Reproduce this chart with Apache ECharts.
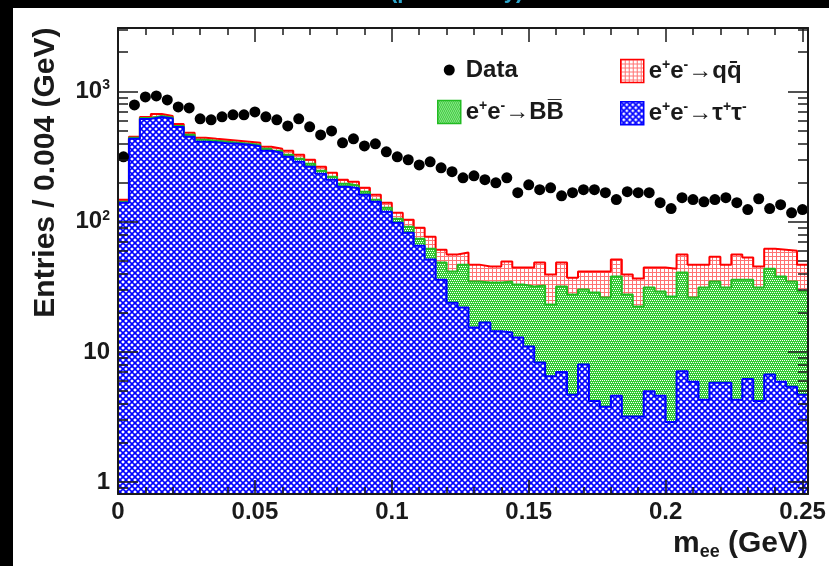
<!DOCTYPE html>
<html>
<head>
<meta charset="utf-8">
<script src="https://cdn.jsdelivr.net/npm/echarts@6/dist/echarts.min.js"></script>
<style>
  html, body { margin: 0; padding: 0; background: #000; }
  #paper { position: absolute; left: 13px; top: 8px; width: 816px; height: 558px; background: #fff; }
  #chart { position: absolute; left: 0; top: 0; width: 829px; height: 566px; }
</style>
</head>
<body>
<div id="paper"></div>
<div id="chart"></div>
<script>
// Di-electron invariant mass, 63 bins of 0.004 GeV between 0 and 0.252 GeV
const binWidth = 0.004;

const dataCounts = [315, 788, 908, 924, 861, 761, 747, 616, 605, 638,
  661, 661, 696, 638, 605, 544, 616, 535, 464, 498,
  403, 433, 382, 396, 344, 315, 299, 273, 288, 259,
  242, 217, 225, 210, 199, 217, 167, 192, 176, 182,
  158, 167, 176, 176, 167, 148, 170, 167, 167, 140,
  126, 153, 148, 142, 148, 153, 140, 124, 150, 126,
  135, 117, 124];

const tauCounts = [139.8, 432.5, 615.6, 637.6, 621.0, 534.5, 448.1, 410.3, 406.7, 399.5,
  396.0, 389.0, 378.9, 350.0, 337.9, 314.9, 288.4, 263.9, 233.3, 209.8,
  185.5, 180.6, 161.0, 142.3, 119.3, 98.2, 82.4, 65.5, 51.2, 35.9,
  23.9, 21.9, 15.4, 16.8, 14.4, 14.1, 12.9, 11.0, 8.3, 6.5,
  7.0, 4.7, 8.0, 4.2, 3.8, 4.6, 3.2, 3.2, 5.0, 4.6,
  2.9, 7.1, 5.9, 4.3, 5.8, 5.8, 4.3, 6.2, 4.2, 6.7,
  5.9, 5.4, 4.7];

const bbCounts = [2.5, 7.9, 10.9, 11.4, 11.0, 9.4, 16.1, 14.7, 10.9, 10.8,
  7.1, 7.0, 10.1, 12.6, 12.1, 11.3, 15.6, 14.3, 12.6, 11.4,
  10.0, 8.2, 8.8, 5.2, 8.7, 7.2, 9.2, 8.6, 10.9, 12.6,
  17.5, 24.9, 19.3, 17.3, 19.7, 20.6, 20.0, 20.8, 24.0, 16.6,
  24.8, 22.9, 22.1, 24.4, 22.4, 33.3, 24.4, 19.1, 26.2, 24.5,
  23.7, 33.6, 20.3, 26.9, 28.9, 25.4, 31.6, 29.7, 27.0, 36.9,
  32.0, 29.3, 24.4];

const qqCounts = [5.2, 7.7, 11.1, 23.2, 17.0, 19.7, 16.6, 15.4, 14.9, 14.7,
  14.5, 14.3, 14.1, 13.0, 12.6, 23.8, 22.2, 20.5, 18.0, 16.2,
  14.3, 13.7, 12.4, 13.5, 11.8, 11.8, 12.0, 15.8, 14.6, 12.5,
  14.5, 11.1, 12.1, 11.1, 11.1, 14.7, 11.5, 12.6, 16.2, 16.2,
  16.7, 9.6, 11.3, 12.8, 15.2, 13.3, 11.7, 14.3, 13.2, 15.3,
  17.0, 15.2, 20.6, 15.6, 19.2, 15.6, 20.0, 17.1, 14.0, 18.5,
  23.1, 25.2, 17.7];

// Axis ticks
const xTickLabels = [0, 0.05, 0.1, 0.15, 0.2, 0.25];
const xMinorTicks = [0.01, 0.02, 0.03, 0.04, 0.06, 0.07, 0.08, 0.09, 0.11, 0.12, 0.13, 0.14,
  0.16, 0.17, 0.18, 0.19, 0.21, 0.22, 0.23, 0.24];
const yTickLabels = [1, 10, 100, 1000];
const yMinorTicks = [0.9, 2, 3, 4, 5, 6, 7, 8, 9, 20, 30, 40, 50, 60, 70, 80, 90,
  200, 300, 400, 500, 600, 700, 800, 900, 2000, 3000];

const X_MIN = 0, X_MAX = 0.252;
const Y_MIN = 0.81, Y_MAX = 3070;

const FONT = '"Liberation Sans", Arial, Helvetica, sans-serif';
const INK = '#1a1a1a';

// Hatched fills
function makeTile(size, draw) {
  const c = document.createElement('canvas');
  c.width = size; c.height = size;
  const g = c.getContext('2d');
  draw(g, size);
  return { image: c, repeat: 'repeat' };
}
const tauFill = makeTile(6, (g, s) => {
  g.fillStyle = '#fff'; g.fillRect(0, 0, s, s);
  g.strokeStyle = '#0000ff'; g.lineWidth = 1.6;
  for (const o of [-s, 0, s]) {
    g.beginPath(); g.moveTo(o, 0); g.lineTo(o + s, s); g.stroke();
    g.beginPath(); g.moveTo(o + s, 0); g.lineTo(o, s); g.stroke();
  }
});
const bbFill = makeTile(4, (g, s) => {
  g.fillStyle = '#33cc33'; g.fillRect(0, 0, s, s);
  g.fillStyle = '#ffffff';
  g.fillRect(0, 0, 1, 1); g.fillRect(2, 0, 1, 1); g.fillRect(1, 2, 1, 1); g.fillRect(3, 2, 1, 1);
});
const qqFill = makeTile(4, (g, s) => {
  g.fillStyle = '#ffffff'; g.fillRect(0, 0, s, s);
  g.fillStyle = 'rgba(255,0,0,0.55)';
  g.fillRect(0, 0, 1, s); g.fillRect(1, 0, s - 1, 1);
});

// Stack of the three samples, drawn as cumulative histograms (back to front: qq, BB, tau)
const stackTau = tauCounts.slice();
const stackBB = tauCounts.map((v, i) => v + bbCounts[i]);
const stackQQ = stackBB.map((v, i) => v + qqCounts[i]);

// Histogram outline points: one point per bin edge, value held across the bin
function binSteps(vals) {
  const pts = vals.map((v, i) => [i * binWidth, v]);
  pts.push([vals.length * binWidth, vals[vals.length - 1]]);
  return pts;
}
const dataPoints = dataCounts.map((v, i) => [(i + 0.5) * binWidth, v]);

// Text measurement for placing the axis titles flush with the axis ends
const mctx = document.createElement('canvas').getContext('2d');
function textW(s, size) { mctx.font = 'bold ' + size + 'px ' + FONT; return mctx.measureText(s).width; }

const gridL = 118, gridT = 28, gridR = 21, gridB = 71;
const W = 829, H = 566;
const axisMidX = (gridL + (W - gridR)) / 2, axisMidY = (gridT + (H - gridB)) / 2;

const yTitle = 'Entries / 0.004 (GeV)';
const yTitleW = textW(yTitle, 30);
const yTitlePad = Math.max(0, 2 * (axisMidY - gridT) - yTitleW);
const xTitleW = textW('m', 30) + textW('ee', 18) + textW(' (GeV)', 30);
const xTitlePad = Math.max(0, 2 * ((W - gridR) - axisMidX) - xTitleW);

const supRich = {
  b: { fontSize: 24, fontWeight: 'bold', fontFamily: FONT, color: INK, lineHeight: 26 },
  s: { fontSize: 14, fontWeight: 'bold', fontFamily: FONT, color: INK, lineHeight: 14, verticalAlign: 'top' }
};

function xAxisDef(pos, ticks, len, withLabels, withLine) {
  return {
    type: 'value', position: pos, min: X_MIN, max: X_MAX, z: 10,
    splitLine: { show: false },
    axisLine: { show: withLine, onZero: false, lineStyle: { color: INK, width: 2 } },
    axisTick: { show: true, inside: true, length: len, customValues: ticks, lineStyle: { color: INK, width: 1.5 } },
    axisLabel: withLabels ? {
      show: true, customValues: xTickLabels, margin: 6,
      fontSize: 24, fontWeight: 'bold', fontFamily: FONT, color: INK,
      formatter: v => String(parseFloat(Number(v).toFixed(3)))
    } : { show: false }
  };
}
function yAxisDef(pos, ticks, len, withLabels, withLine) {
  return {
    type: 'log', logBase: 10, position: pos, min: Y_MIN, max: Y_MAX, z: 10,
    splitLine: { show: false },
    axisLine: { show: withLine, onZero: false, lineStyle: { color: INK, width: 2 } },
    axisTick: { show: true, inside: true, length: len, customValues: ticks, lineStyle: { color: INK, width: 1.5 } },
    axisLabel: withLabels ? {
      show: true, customValues: yTickLabels, margin: 8,
      fontSize: 24, fontWeight: 'bold', fontFamily: FONT, color: INK,
      formatter: v => {
        const e = Math.round(Math.log10(v));
        return e <= 1 ? '{b|' + Math.round(v) + '}' : '{b|10}{s|' + e + '}';
      },
      rich: supRich
    } : { show: false }
  };
}

const xAxes = [
  xAxisDef('bottom', xTickLabels, 14, true, true),
  xAxisDef('bottom', xMinorTicks, 7, false, false),
  xAxisDef('top', xTickLabels, 14, false, true),
  xAxisDef('top', xMinorTicks, 7, false, false)
];
Object.assign(xAxes[0], {
  name: '{m|m}{sub|ee}{m| (GeV)}', nameLocation: 'middle', nameGap: 32,
  nameTextStyle: {
    padding: [0, 0, 0, xTitlePad], color: INK,
    rich: {
      m: { fontSize: 30, fontWeight: 'bold', fontFamily: FONT, color: INK, lineHeight: 34 },
      sub: { fontSize: 18, fontWeight: 'bold', fontFamily: FONT, color: INK, lineHeight: 18, verticalAlign: 'bottom' }
    }
  }
});
const yAxes = [
  yAxisDef('left', yTickLabels, 20, true, true),
  yAxisDef('left', yMinorTicks, 10, false, false),
  yAxisDef('right', yTickLabels, 20, false, true),
  yAxisDef('right', yMinorTicks, 10, false, false)
];
Object.assign(yAxes[0], {
  name: yTitle, nameLocation: 'middle', nameGap: 57, nameRotate: 90,
  nameTextStyle: { fontSize: 30, fontWeight: 'bold', fontFamily: FONT, color: INK, padding: [0, 0, 0, yTitlePad] }
});

const legendNames = {
  Data: '{t|Data}',
  qq: '{t|e}{s|+}{t|e}{s|-}{t|\u2192qq\u0304}',
  BB: '{t|e}{s|+}{t|e}{s|-}{t|\u2192BB\u0305}',
  tautau: '{t|e}{s|+}{t|e}{s|-}{t|\u2192\u03c4}{s|+}{t|\u03c4}{s|-}'
};
const legendText = {
  fontSize: 24, fontWeight: 'bold', fontFamily: FONT, color: INK,
  rich: {
    t: { fontSize: 24, fontWeight: 'bold', fontFamily: FONT, color: INK, lineHeight: 26 },
    s: { fontSize: 14, fontWeight: 'bold', fontFamily: FONT, color: INK, lineHeight: 14, verticalAlign: 'top' }
  }
};
const dotIcon = 'path://M0,0 M23,23 M6,11.5 A5.5,5.5 0 1,1 17,11.5 A5.5,5.5 0 1,1 6,11.5 Z';
function legendDef(left, items) {
  return {
    left: left, top: 58, orient: 'vertical', padding: 0,
    itemWidth: 23, itemHeight: 23, itemGap: 17, itemTextGap: 8,
    selectedMode: false, data: items, textStyle: legendText,
    formatter: n => legendNames[n]
  };
}

function histSeries(name, vals, lineColor, fill, z) {
  return {
    name: name, type: 'line', step: 'end', symbol: 'none',
    data: binSteps(vals),
    itemStyle: { color: lineColor },
    lineStyle: { color: lineColor, width: 2 },
    areaStyle: { color: fill, opacity: 1, origin: 'start' },
    z: z
  };
}

const chart = echarts.init(document.getElementById('chart'), null, { renderer: 'canvas' });
chart.setOption({
  animation: false,
  backgroundColor: 'transparent',
  grid: { left: gridL, top: gridT, right: gridR, bottom: gridB, containLabel: false },
  xAxis: xAxes,
  yAxis: yAxes,
  legend: [
    legendDef(437, [
      { name: 'Data', icon: dotIcon, itemStyle: { color: '#000' } },
      { name: 'BB', icon: 'rect', itemStyle: { color: bbFill, borderColor: '#22bb22', borderWidth: 1.5 } }
    ]),
    legendDef(620, [
      { name: 'qq', icon: 'rect', itemStyle: { color: qqFill, borderColor: '#ff0000', borderWidth: 1.5 } },
      { name: 'tautau', icon: 'rect', itemStyle: { color: tauFill, borderColor: '#0000ff', borderWidth: 1.5 } }
    ])
  ],
  graphic: [{
    type: 'text', left: 390, top: -19, silent: true,
    style: { text: '(preliminary)', fill: '#2ea6cc', font: 'bold 22px ' + FONT }
  }],
  series: [
    histSeries('qq', stackQQ, '#ff0000', qqFill, 1),
    histSeries('BB', stackBB, '#22bb22', bbFill, 2),
    histSeries('tautau', stackTau, '#0000ff', tauFill, 3),
    {
      name: 'Data', type: 'scatter', symbol: 'circle', symbolSize: 11,
      data: dataPoints,
      itemStyle: { color: '#000', opacity: 1 }, z: 5
    }
  ]
});
</script>
</body>
</html>
